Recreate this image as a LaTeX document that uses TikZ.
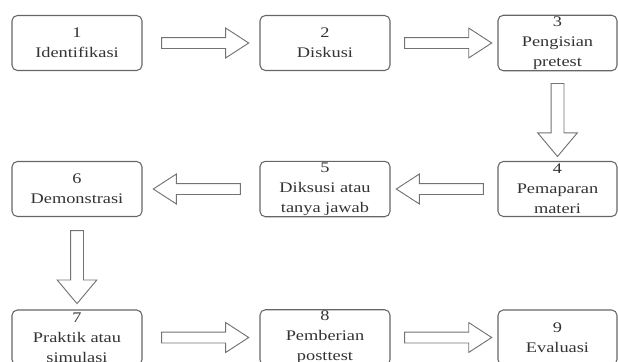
\documentclass[tikz,border=0pt]{standalone}
\usepackage{fontspec}
\setmainfont[FakeStretch=1.25]{Liberation Serif}
\usetikzlibrary{shapes.arrows}
\tikzset{
  x=0.75pt,
  y=-0.75pt,
}
\tikzstyle{every node}=[font=\fontsize{11pt}{15pt}\selectfont]
\tikzstyle{tahap}=[draw=black!60,line width=0.8pt,rounded corners=4pt,
  minimum width=97.5pt,minimum height=41.25pt,align=center,inner sep=1pt,
  text=black!80]
\tikzstyle{tahapkanan}=[tahap,minimum width=89.25pt]
\tikzstyle{panah}=[single arrow,draw=black!55,line width=0.7pt,fill=white,
  text height=0pt,text depth=0pt,inner xsep=0pt,inner ysep=3.75pt,
  single arrow head extend=7.1pt,single arrow tip angle=66,
  minimum height=65.25pt,sloped,allow upside down]
\tikzstyle{panahturun}=[panah,inner ysep=4.5pt,single arrow head extend=10pt,
  minimum height=54.75pt,single arrow tip angle=80]

\begin{document}
\begin{tikzpicture}
    \useasboundingbox (0,0) rectangle (618,361);
    % baris atas
    \node[tahap] (b1) at (77,43) {1\\Identifikasi};
    \node[tahap] (b2) at (325,43) {2\\Diskusi};
    \node[tahapkanan] (b3) at (557.5,43) {3\\Pengisian\\pretest};
    % baris tengah
    \node[tahapkanan] (b4) at (557.5,189) {4\\Pemaparan\\materi};
    \node[tahap] (b5) at (325,189) {5\\Diksusi atau\\tanya jawab};
    \node[tahap] (b6) at (77,189) {6\\Demonstrasi};
    % baris bawah
    \node[tahap] (b7) at (77,337.5) {7\\Praktik atau\\simulasi};
    \node[tahap] (b8) at (325,337.5) {8\\Pemberian\\posttest};
    \node[tahapkanan] (b9) at (557.5,337.5) {9\\Evaluasi};
    % panah
    \path (b1) -- node[panah]{} (b2);
    \path (b2.east) -- node[panah]{} (b3.west);
    \path (b3) -- node[panahturun]{} (b4);
    \path (b4.west) -- node[panah]{} (b5.east);
    \path (b5) -- node[panah]{} (b6);
    \path (b6.south) -- node[panahturun]{} (b7.north);
    \path (b7) -- node[panah]{} (b8);
    \path (b8.east) -- node[panah]{} (b9.west);
\end{tikzpicture}
\end{document}
